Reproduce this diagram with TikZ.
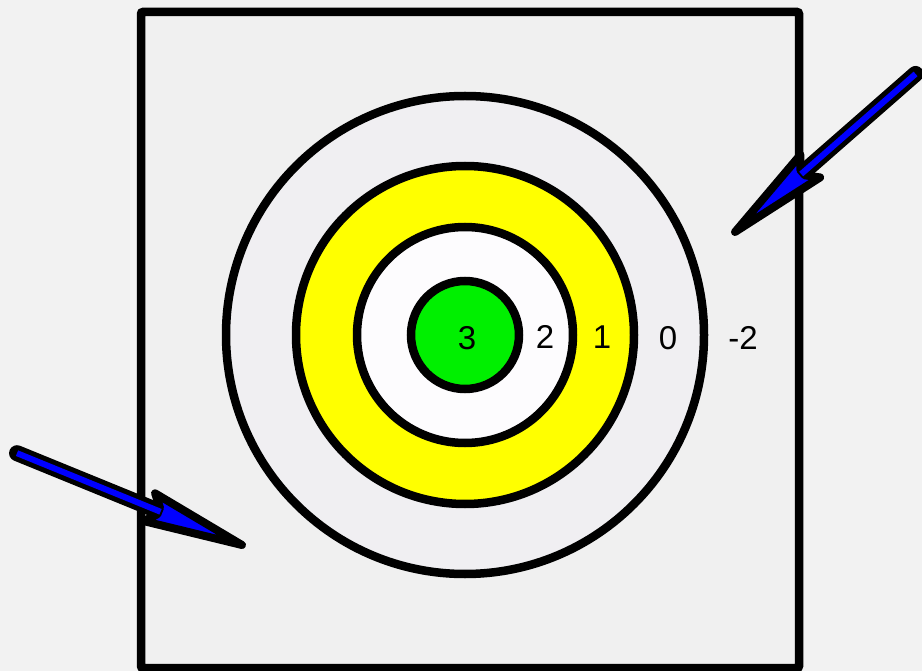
\documentclass[tikz,border=0pt]{standalone}
\usepackage{fontspec}
\setmainfont{Liberation Sans}
\definecolor{bg}{HTML}{F2F2F2}
\definecolor{sq}{HTML}{F0F0F0}
\definecolor{ringgray}{HTML}{F0EFF2}
\definecolor{ringwhite}{HTML}{FDFCFE}
\definecolor{ringyellow}{HTML}{FFFF00}
\definecolor{ringgreen}{HTML}{00F000}
\definecolor{arrowblue}{HTML}{0000FF}
\tikzset{
  ring/.style={draw=black, line width=8.5pt},
  score/.style={font=\fontsize{33}{33}\selectfont, text=black, inner sep=0pt},
  pshaft/.style={draw=black, line width=16pt, line cap=round},
  phead/.style={draw=black, fill=arrowblue, line width=8pt, line join=round},
  pcore/.style={draw=arrowblue, line width=6pt, line cap=butt},
}
\begin{document}
\begin{tikzpicture}[x=1pt, y=-1pt]
\fill[bg] (0,0) rectangle (922,671);
\useasboundingbox (0,0) rectangle (922,671);
% target board
\draw[fill=sq, line width=8.5pt, rounded corners=2pt] (141,12) rectangle (799,668);
\coordinate (c) at (465,335);
\draw[ring, fill=ringgray] (c) circle[radius=239];
\draw[ring, fill=ringyellow] (c) circle[radius=169];
\draw[ring, fill=ringwhite] (c) circle[radius=108];
\draw[ring, fill=ringgreen] (c) circle[radius=54];
% scores
\node[score] (s3) at (467,338) {3};
\node[score] (s2) at (545,337) {2};
\node[score] (s1) at (602,337) {1};
\node[score] (s0) at (668,338) {0};
\node[score] (sm2) at (743,338) {-2};
% arrows: tip at origin of local frame, tail along +x
\coordinate (tipA) at (735,232);
\coordinate (tipB) at (242,545);
\begin{scope}[shift={(tipA)}, rotate=41.2]
  \draw[pshaft] (85,0) -- (240,0);
  \draw[phead] (0,0) -- (100,15) -- (90,3.5) -- (90,-3.5) -- (100,-15) -- cycle;
  \draw[pcore] (88,0) -- (240,0);
\end{scope}
\begin{scope}[shift={(tipB)}, rotate=157.8]
  \draw[pshaft] (85,0) -- (243,0);
  \draw[phead] (0,0) -- (100,15) -- (90,3.5) -- (90,-3.5) -- (100,-15) -- cycle;
  \draw[pcore] (88,0) -- (243,0);
\end{scope}
\end{tikzpicture}
\end{document}
